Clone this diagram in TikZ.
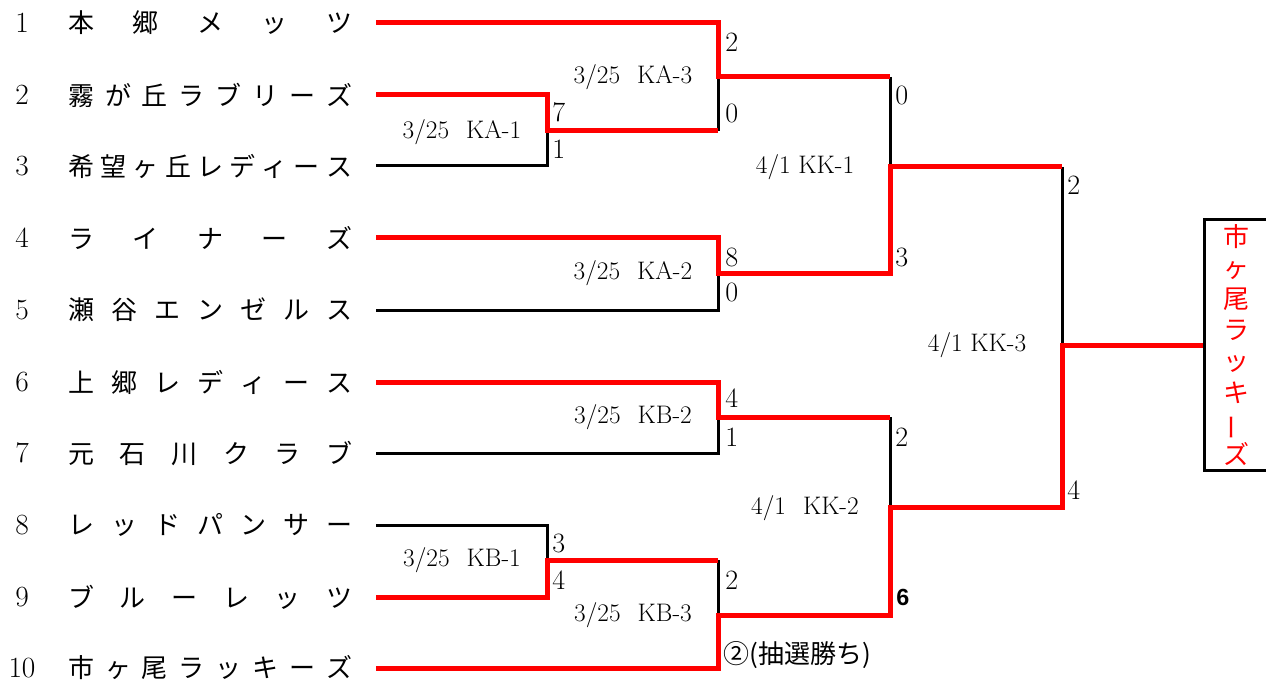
\documentclass[tikz,border=0pt]{standalone}
\usepackage{fontspec}
\newfontfamily\jp{Noto Sans CJK JP}
\newfontfamily\arialfont{Liberation Sans}
\definecolor{bred}{RGB}{255,0,0}
\newcommand\spreadname[1]{\hbox to 213pt{#1}}
\begin{document}
\begin{tikzpicture}[x=0.75pt,y=-0.75pt,
  blk/.style={draw=black, line width=2.25pt},
  rd/.style={draw=bred, line width=3.75pt},
  lbl/.style={font=\fontsize{19}{19}\selectfont, inner sep=0},
  score/.style={font=\fontsize{21}{21}\selectfont, anchor=west, inner sep=0},
  num/.style={font=\fontsize{22}{22}\selectfont, inner sep=0},
  team/.style={font=\jp\fontsize{19.5}{19.5}\selectfont, anchor=west, inner sep=0}]
\useasboundingbox (0,0) rectangle (1266,684);

% team rows
\foreach \i/\y in {1/23,2/95,3/166,4/238,5/310,6/382,7/453,8/525,9/597,10/668}{
  \coordinate (t\i) at (376,\y);
  \node[num] (no\i) at (22,\y) {\i};
}
\node[team] (n1) at (68,23) {\spreadname{本\hfill 郷\hfill メ\hfill ッ\hfill ツ}};
\node[team] (n2) at (68,95) {\spreadname{霧\hfill が\hfill 丘\hfill ラ\hfill ブ\hfill リ\hfill ー\hfill ズ}};
\node[team] (n3) at (68,166) {\spreadname{希\hfill 望\hfill ヶ\hfill 丘\hfill レ\hfill デ\hfill ィ\hfill ー\hfill ス}};
\node[team] (n4) at (68,238) {\spreadname{ラ\hfill イ\hfill ナ\hfill ー\hfill ズ}};
\node[team] (n5) at (68,310) {\spreadname{瀬\hfill 谷\hfill エ\hfill ン\hfill ゼ\hfill ル\hfill ス}};
\node[team] (n6) at (68,382) {\spreadname{上\hfill 郷\hfill レ\hfill デ\hfill ィ\hfill ー\hfill ス}};
\node[team] (n7) at (68,453) {\spreadname{元\hfill 石\hfill 川\hfill ク\hfill ラ\hfill ブ}};
\node[team] (n8) at (68,525) {\spreadname{レ\hfill ッ\hfill ド\hfill パ\hfill ン\hfill サ\hfill ー}};
\node[team] (n9) at (68,597) {\spreadname{ブ\hfill ル\hfill ー\hfill レ\hfill ッ\hfill ツ}};
\node[team] (n10) at (68,668) {\spreadname{市\hfill ヶ\hfill 尾\hfill ラ\hfill ッ\hfill キ\hfill ー\hfill ズ}};

% match points
\coordinate (ka1) at (547,131);
\coordinate (ka3) at (718,77);
\coordinate (ka2) at (718,273);
\coordinate (kk1) at (890,167);
\coordinate (kb2) at (718,417);
\coordinate (kb1) at (547,560);
\coordinate (kb3) at (718,615);
\coordinate (kk2) at (890,507);
\coordinate (kk3) at (1062,345);

% winner box
\node[draw, line width=2.25pt, minimum width=48pt, minimum height=188.25pt, inner sep=0,
  text=bred, align=center, font=\jp\fontsize{19.5}{23.3}\selectfont] (winner) at (1236,345)
  {市\\ヶ\\尾\\ラ\\ッ\\キ\\\rotatebox[origin=c]{90}{ー}\\ズ};

% black (losing) lines
\draw[blk] (t3) -| (ka1);
\draw[blk] (ka1 -| ka3) -- (ka3);
\draw[blk] (ka3 -| kk1) -- (kk1);
\draw[blk] (t5) -| (ka2);
\draw[blk] (t7) -| (kb2);
\draw[blk] (kb2 -| kk2) -- (kk2);
\draw[blk] (t8) -| (kb1);
\draw[blk] (kb1 -| kb3) -- (kb3);
\draw[blk] (kk1 -| kk3) -- (kk3);

% red (winning) lines
\draw[rd] (t2) -| (ka1) -- (ka1 -| ka3);
\draw[rd] (t1) -| (ka3) -- (ka3 -| kk1);
\draw[rd] (t4) -| (ka2) -- (ka2 -| kk1) -- (kk1) -- (kk1 -| kk3);
\draw[rd] (t6) -| (kb2) -- (kb2 -| kk2);
\draw[rd] (t9) -| (kb1) -- (kb1 -| kb3);
\draw[rd] (t10) -| (kb3) -- (kb3 -| kk2) -- (kk2) -- (kk2 -| kk3) -- (kk3) -- (winner.west);

% match labels
\node[lbl] (lka1) at (462,132) {3/25\hspace{0.67em}KA-1};
\node[lbl] (lka3) at (633,77) {3/25\hspace{0.67em}KA-3};
\node[lbl] (lka2) at (633,273) {3/25\hspace{0.67em}KA-2};
\node[lbl] (lkk1) at (805,167) {4/1 KK-1};
\node[lbl] (lkb2) at (633,417) {3/25\hspace{0.67em}KB-2};
\node[lbl] (lkb1) at (462,560) {3/25\hspace{0.67em}KB-1};
\node[lbl] (lkb3) at (633,615) {3/25\hspace{0.67em}KB-3};
\node[lbl] (lkk2) at (805,508) {4/1\hspace{0.67em}KK-2};
\node[lbl] (lkk3) at (977,345) {4/1 KK-3};

% scores
\node[score] (s1) at (552,112) {7};
\node[score] (s2) at (552,149) {1};
\node[score] (s3) at (725,42) {2};
\node[score] (s4) at (725,113) {0};
\node[score] (s5) at (725,257) {8};
\node[score] (s6) at (725,292) {0};
\node[score] (s7) at (895,95) {0};
\node[score] (s8) at (895,257) {3};
\node[score] (s9) at (1067,185) {2};
\node[score] (s10) at (1067,490) {4};
\node[score] (s11) at (725,398) {4};
\node[score] (s12) at (725,437) {1};
\node[score] (s13) at (895,437) {2};
\node[score, font=\arialfont\bfseries\fontsize{17.5}{17.5}\selectfont] (s14) at (896,597) {6};
\node[score] (s15) at (552,543) {3};
\node[score] (s16) at (552,580) {4};
\node[score] (s17) at (725,580) {2};
\node[score, font=\jp\fontsize{19.5}{19.5}\selectfont] (s18) at (723,655) {②(抽選勝ち)};
\end{tikzpicture}
\end{document}
